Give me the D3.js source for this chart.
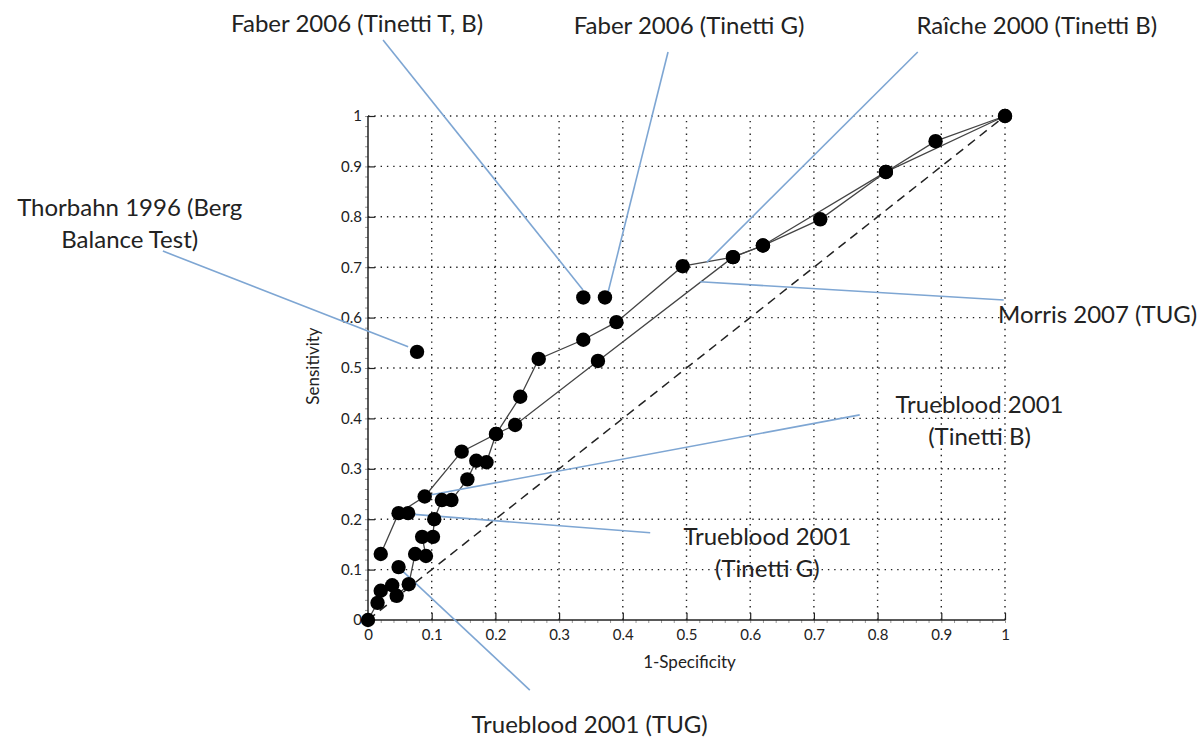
<!DOCTYPE html>
<html>
<head>
<meta charset="utf-8">
<script src="https://cdn.jsdelivr.net/npm/d3@7"></script>
<style>
  html, body { margin: 0; padding: 0; background: #fff; }
  svg { display: block; }
  text { font-family: Lato, "Open Sans", sans-serif; fill: #222; }
</style>
</head>
<body>
<svg id="chart" width="1201" height="740"></svg>
<script>
// ---- Data ----
const tickValues = [0, 0.1, 0.2, 0.3, 0.4, 0.5, 0.6, 0.7, 0.8, 0.9, 1];
const tickLabels = ["0", "0.1", "0.2", "0.3", "0.4", "0.5", "0.6", "0.7", "0.8", "0.9", "1"];

// Upper ROC chain
const upperX = [0.02, 0.048, 0.089, 0.147, 0.201, 0.239, 0.268, 0.338, 0.39, 0.494, 0.573, 0.62, 0.813, 1];
const upperY = [0.131, 0.212, 0.245, 0.334, 0.369, 0.443, 0.518, 0.556, 0.591, 0.702, 0.72, 0.743, 0.889, 1];

// Lower ROC chain
const lowerX = [0, 0.015, 0.02, 0.038, 0.045, 0.064, 0.074, 0.091, 0.085, 0.102, 0.104, 0.116, 0.131, 0.156, 0.17, 0.186, 0.201, 0.231, 0.361, 0.573, 0.62, 0.71, 0.813, 0.891, 1];
const lowerY = [0, 0.034, 0.058, 0.069, 0.048, 0.071, 0.131, 0.127, 0.165, 0.165, 0.2, 0.238, 0.238, 0.279, 0.316, 0.313, 0.369, 0.387, 0.514, 0.72, 0.743, 0.795, 0.889, 0.95, 1];

// Unconnected study points
const singleX = [0.048, 0.063, 0.077, 0.338, 0.372];
const singleY = [0.105, 0.212, 0.532, 0.64, 0.64];

// Annotation labels (text lines, anchor in data units)
const annoNames = [
  ["Faber 2006 (Tinetti T, B)"],
  ["Faber 2006 (Tinetti G)"],
  ["Raîche 2000 (Tinetti B)"],
  ["Thorbahn 1996 (Berg", "Balance Test)"],
  ["Morris 2007 (TUG)"],
  ["Trueblood 2001", "(Tinetti B)"],
  ["Trueblood 2001", "(Tinetti G)"],
  ["Trueblood 2001 (TUG)"]
];
const annoTextX = [-0.017, 0.504, 1.050, -0.374, 0.989, 0.96, 0.627, 0.348];
const annoTextY = [1.167, 1.163, 1.163, 0.802, 0.590, 0.41, 0.148, -0.224];
const annoAnchor = ["middle", "middle", "middle", "middle", "start", "middle", "middle", "middle"];
// Leader lines: from (x1,y1) near label to (x2,y2) at the point
const leadX1 = [0.0236, 0.471, 0.863, -0.322, 0.998, 0.772, 0.443, 0.254];
const leadY1 = [1.151, 1.127, 1.127, 0.732, 0.635, 0.407, 0.173, -0.139];
const leadX2 = [0.3375, 0.377, 0.532, 0.063, 0.521, 0.089, 0.047, 0.046];
const leadY2 = [0.655, 0.651, 0.710, 0.542, 0.671, 0.246, 0.212, 0.107];

// ---- Chart ----
const svg = d3.select("#chart");
const x = d3.scaleLinear().domain([0, 1]).range([368, 1005]);
const y = d3.scaleLinear().domain([0, 1]).range([620, 116]);

// grid (dotted)
const grid = svg.append("g");
grid.selectAll("line.v").data(tickValues.slice(1)).join("line")
  .attr("x1", d => x(d)).attr("x2", d => x(d))
  .attr("y1", y(0)).attr("y2", y(1))
  .attr("stroke", "#222").attr("stroke-width", 1.4)
  .attr("stroke-dasharray", "1.4,4.9");
grid.selectAll("line.h").data(tickValues.slice(1)).join("line")
  .attr("x1", x(0)).attr("x2", x(1))
  .attr("y1", d => y(d)).attr("y2", d => y(d))
  .attr("stroke", "#222").attr("stroke-width", 1.4)
  .attr("stroke-dasharray", "1.4,4.9");

// axes
const minor = d3.range(0, 1.0001, 0.02);
const xAxisG = svg.append("g").attr("transform", `translate(0,${y(0)})`);
xAxisG.call(d3.axisBottom(x).tickValues(minor).tickSize(3).tickFormat(""))
  .call(g => g.select(".domain").remove())
  .call(g => g.selectAll(".tick line").attr("stroke", "#999"));
const xAxisMajor = svg.append("g").attr("transform", `translate(0,${y(0)})`);
xAxisMajor.call(d3.axisTop(x).tickValues(tickValues).tickSize(7).tickFormat(""))
  .call(g => g.select(".domain").remove())
  .call(g => g.selectAll(".tick line").attr("stroke", "#222").attr("stroke-width", 1.2));
const xLabels = svg.append("g").attr("transform", `translate(0,${y(0)})`);
xLabels.call(d3.axisBottom(x).tickValues(tickValues).tickSize(0).tickPadding(9).tickFormat((d, i) => tickLabels[i]))
  .call(g => g.select(".domain").remove())
  .call(g => g.selectAll("text").style("font-size", "15px").style("font-family", "Lato, sans-serif").attr("fill", "#222"));

const yAxisG = svg.append("g").attr("transform", `translate(${x(0)},0)`);
yAxisG.call(d3.axisLeft(y).tickValues(minor).tickSize(3).tickFormat(""))
  .call(g => g.select(".domain").remove())
  .call(g => g.selectAll(".tick line").attr("stroke", "#999"));
const yAxisMajor = svg.append("g").attr("transform", `translate(${x(0)},0)`);
yAxisMajor.call(d3.axisRight(y).tickValues(tickValues).tickSize(7).tickFormat(""))
  .call(g => g.select(".domain").remove())
  .call(g => g.selectAll(".tick line").attr("stroke", "#222").attr("stroke-width", 1.2));
const yLabels = svg.append("g").attr("transform", `translate(${x(0)},0)`);
yLabels.call(d3.axisLeft(y).tickValues(tickValues).tickSize(0).tickPadding(6).tickFormat((d, i) => tickLabels[i]))
  .call(g => g.select(".domain").remove())
  .call(g => g.selectAll("text").style("font-size", "15px").style("font-family", "Lato, sans-serif").attr("fill", "#222"));

// axis lines
svg.append("line").attr("x1", x(0)).attr("x2", x(1)).attr("y1", y(0)).attr("y2", y(0))
  .attr("stroke", "#222").attr("stroke-width", 1.5);
svg.append("line").attr("x1", x(0)).attr("x2", x(0)).attr("y1", y(0)).attr("y2", y(1))
  .attr("stroke", "#222").attr("stroke-width", 1.5);

// axis titles
svg.append("text").attr("x", x(0.5) + 3).attr("y", 668).attr("text-anchor", "middle")
  .style("font-size", "17px").text("1-Specificity");
svg.append("text").attr("transform", `translate(319,${y(0.5) - 2}) rotate(-90)`).attr("text-anchor", "middle")
  .style("font-size", "17px").text("Sensitivity");

// chance diagonal
svg.append("line").attr("x1", x(0)).attr("y1", y(0)).attr("x2", x(1)).attr("y2", y(1))
  .attr("stroke", "#222").attr("stroke-width", 1.5).attr("stroke-dasharray", "9,6");

// ROC chains
const line = d3.line().x(d => x(d[0])).y(d => y(d[1]));
const upperPts = upperX.map((v, i) => [v, upperY[i]]);
const lowerPts = lowerX.map((v, i) => [v, lowerY[i]]);
[upperPts, lowerPts].forEach(pts => {
  svg.append("path").datum(pts).attr("d", line)
    .attr("fill", "none").attr("stroke", "#444").attr("stroke-width", 1.3);
});

// leader lines
const leaders = leadX1.map((v, i) => ({x1: v, y1: leadY1[i], x2: leadX2[i], y2: leadY2[i]}));
svg.append("g").selectAll("line").data(leaders).join("line")
  .attr("x1", d => x(d.x1)).attr("y1", d => y(d.y1))
  .attr("x2", d => x(d.x2)).attr("y2", d => y(d.y2))
  .attr("stroke", "#7ea6d3").attr("stroke-width", 1.6);

// markers
const allPts = upperPts.concat(lowerPts).concat(singleX.map((v, i) => [v, singleY[i]]));
svg.append("g").selectAll("circle").data(allPts).join("circle")
  .attr("cx", d => x(d[0])).attr("cy", d => y(d[1])).attr("r", 7.2)
  .attr("fill", "#000");

// annotation labels
const annoG = svg.append("g");
annoNames.forEach((lines, i) => {
  const t = annoG.append("text")
    .attr("x", x(annoTextX[i])).attr("y", y(annoTextY[i]))
    .attr("text-anchor", annoAnchor[i])
    .style("font-size", "24px");
  lines.forEach((s, j) => {
    t.append("tspan").attr("x", x(annoTextX[i])).attr("dy", j === 0 ? 0 : 32).text(s);
  });
});
</script>
</body>
</html>
